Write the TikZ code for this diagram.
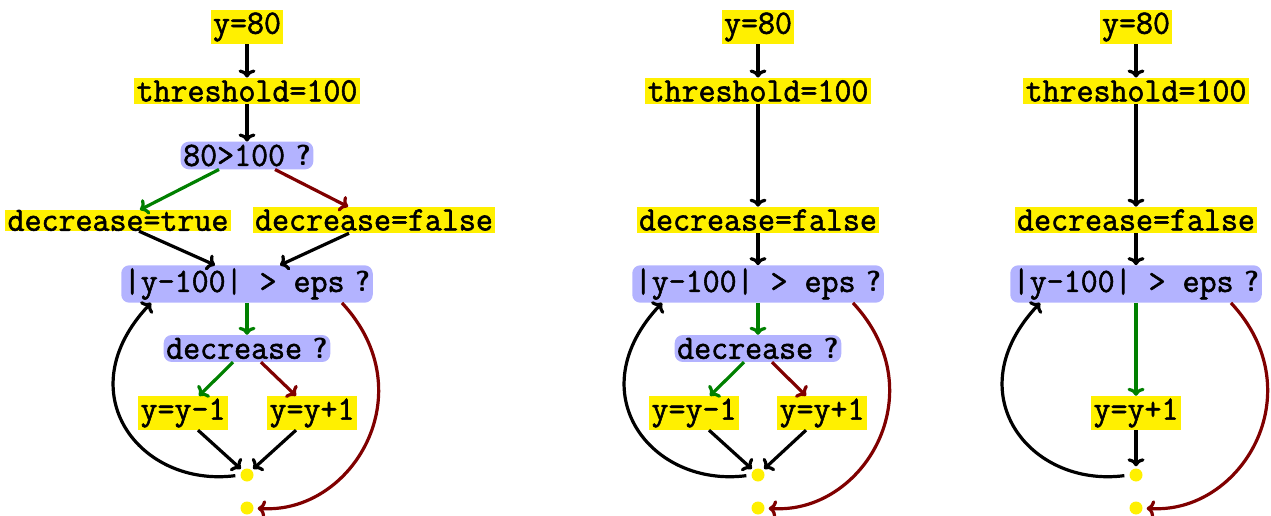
\documentclass[tikz,border=0pt]{standalone}
\usepackage{fontspec}
\setmonofont[FakeStretch=0.97, FakeBold=1.6]{Latin Modern Mono}
\usetikzlibrary{calc,arrows.meta}
\definecolor{ylw}{RGB}{255,240,0}
\definecolor{blu}{RGB}{179,179,255}
\definecolor{yesgreen}{RGB}{0,128,0}
\definecolor{nored}{RGB}{128,0,0}
\newcommand\qmark{{\sffamily\bfseries\fontsize{29}{34}\selectfont\ ?}}
\tikzset{
  act/.style={fill=ylw, inner xsep=2.5pt, inner ysep=2.5pt, font=\ttfamily\fontsize{34}{39}\selectfont},
  test/.style={fill=blu, rounded corners=8pt, inner xsep=2.5pt, inner ysep=3pt, font=\ttfamily\fontsize{34}{39}\selectfont},
  joint/.style={circle, fill=ylw, minimum size=13pt, inner sep=0pt},
  arr/.style={-{To[length=8pt,width=17pt]}, line width=3.2pt},
  yes/.style={arr, draw=yesgreen},
  no/.style={arr, draw=nored},
}
\begin{document}
\begin{tikzpicture}[x=1pt, y=-1pt]
\useasboundingbox (0,0) rectangle (1271,516);

% ---------- first flow: both branches ----------
\node[act] (Ay) at (247,27) {y=80};
\node[act] (At) at (247,91) {threshold=100};
\node[test] (Aq) at (247,155.5) {80>100\qmark};
\node[act, inner ysep=0pt] (Adt) at (118,220.5) {decrease=true};
\node[act] (Adf) at (374,220) {decrease=false};
\node[test] (Ac) at (247,284) {|y-100| > eps\qmark};
\node[test] (Ad) at (247,348.5) {decrease\qmark};
\node[act] (Am) at (183,413) {y=y-1};
\node[act] (Ap) at (312,413) {y=y+1};
\node[joint] (Aj) at (247,475) {};
\node[joint] (Ae) at (247,508) {};

\draw[arr] (Ay) -- (At);
\draw[arr] (At) -- (Aq);
\draw[yes] ([xshift=-28pt]Aq.south) -- ([xshift=22pt]Adt.north);
\draw[no] ([xshift=28pt]Aq.south) -- ([xshift=-26pt]Adf.north);
\draw[arr] ([xshift=21pt]Adt.south) -- ([xshift=-32pt]Ac.north);
\draw[arr] ([xshift=-25pt]Adf.south) -- ([xshift=33pt]Ac.north);
\draw[yes] (Ac) -- (Ad);
\draw[yes] ([xshift=-14pt]Ad.south) -- ([xshift=16pt]Am.north);
\draw[no] ([xshift=14pt]Ad.south) -- ([xshift=-16pt]Ap.north);
\draw[arr, shorten >=2pt] ([xshift=15pt]Am.south) -- (Aj.north west);
\draw[arr, shorten >=2pt] ([xshift=-16pt]Ap.south) -- (Aj.north east);
\draw[arr, shorten <=5pt] (Aj.west) .. controls +(-100,13) and +(-85,90) .. ([xshift=30pt]Ac.south west);
\draw[no, shorten >=4pt] ([xshift=-31pt]Ac.south east) .. controls +(84,90) and +(98,7) .. (Ae.east);

% ---------- second flow: false branch only ----------
\begin{scope}[xshift=511pt]
\node[act] (By) at (247,27) {y=80};
\node[act] (Bt) at (247,91) {threshold=100};
\node[act] (Bdf) at (247,220) {decrease=false};
\node[test] (Bc) at (247,284) {|y-100| > eps\qmark};
\node[test] (Bd) at (247,348.5) {decrease\qmark};
\node[act] (Bm) at (183,413) {y=y-1};
\node[act] (Bp) at (311,413) {y=y+1};
\node[joint] (Bj) at (247,475) {};
\node[joint] (Be) at (247,508) {};
\end{scope}

\draw[arr] (By) -- (Bt);
\draw[arr] (Bt) -- (Bdf);
\draw[arr] (Bdf) -- (Bc);
\draw[yes] (Bc) -- (Bd);
\draw[yes] ([xshift=-14pt]Bd.south) -- ([xshift=16pt]Bm.north);
\draw[no] ([xshift=14pt]Bd.south) -- ([xshift=-16pt]Bp.north);
\draw[arr, shorten >=2pt] ([xshift=15pt]Bm.south) -- (Bj.north west);
\draw[arr, shorten >=2pt] ([xshift=-16pt]Bp.south) -- (Bj.north east);
\draw[arr, shorten <=5pt] (Bj.west) .. controls +(-100,13) and +(-85,90) .. ([xshift=30pt]Bc.south west);
\draw[no, shorten >=4pt] ([xshift=-31pt]Bc.south east) .. controls +(84,90) and +(98,7) .. (Be.east);

% ---------- third flow: decision folded away ----------
\begin{scope}[xshift=889pt]
\node[act] (Cy) at (247,27) {y=80};
\node[act] (Ct) at (247,91) {threshold=100};
\node[act] (Cdf) at (247,220) {decrease=false};
\node[test] (Cc) at (247,284) {|y-100| > eps\qmark};
\node[act] (Cp) at (247,413) {y=y+1};
\node[joint] (Cj) at (247,475) {};
\node[joint] (Ce) at (247,508) {};
\end{scope}

\draw[arr] (Cy) -- (Ct);
\draw[arr] (Ct) -- (Cdf);
\draw[arr] (Cdf) -- (Cc);
\draw[yes] (Cc) -- (Cp);
\draw[arr, shorten >=2pt] (Cp) -- (Cj);
\draw[arr, shorten <=5pt] (Cj.west) .. controls +(-100,13) and +(-85,90) .. ([xshift=30pt]Cc.south west);
\draw[no, shorten >=4pt] ([xshift=-31pt]Cc.south east) .. controls +(84,90) and +(98,7) .. (Ce.east);
\end{tikzpicture}
\end{document}
